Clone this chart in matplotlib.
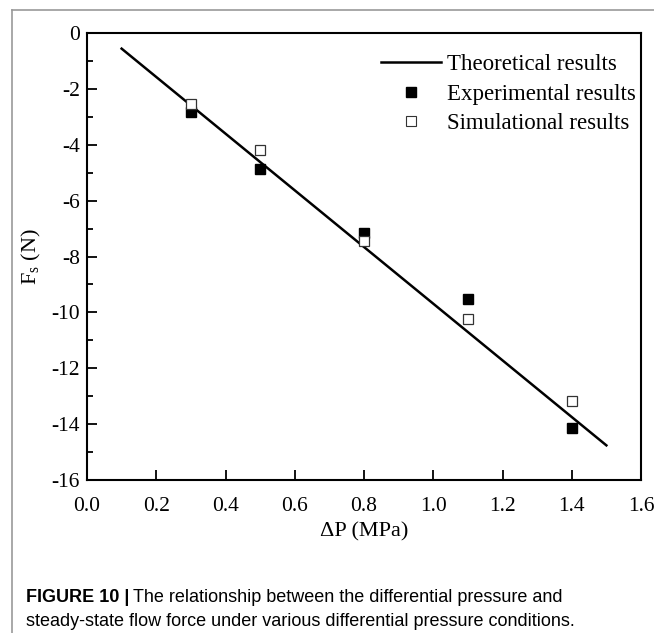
import numpy as np
import matplotlib.pyplot as plt
from matplotlib.lines import Line2D

# pressure difference (MPa) and flow force (N)
dp = [0.3, 0.5, 0.8, 1.1, 1.4]
fs_exp = [-2.82, -4.88, -7.15, -9.52, -14.14]
fs_sim = [-2.55, -4.20, -7.46, -10.24, -13.16]
dp_theory = [0.1, 1.5]
fs_theory = [-0.56, -14.76]

xticks = [0.0, 0.2, 0.4, 0.6, 0.8, 1.0, 1.2, 1.4, 1.6]
yticks = [0, -2, -4, -6, -8, -10, -12, -14, -16]

plt.rcParams['font.family'] = ['Liberation Serif', 'DejaVu Serif']

fig = plt.figure(figsize=(6.54, 6.33), dpi=100)
ax = fig.add_axes([87 / 654, 1 - 480 / 633, (641 - 87) / 654, (480 - 33) / 633])

ax.plot(dp_theory, fs_theory, color='black', lw=1.8, label='Theoretical results')
ax.plot(dp, fs_exp, 's', color='black', ms=7, ls='none', label='Experimental results')
ax.plot(dp, fs_sim, 's', mfc='white', mec='#333333', mew=0.9, ms=7, ls='none',
        label='Simulational results')

ax.set_xlim(0, 1.6)
ax.set_ylim(-16, 0)
ax.set_xticks(xticks)
ax.set_xticklabels([f'{v:.1f}' for v in xticks])
ax.set_yticks(yticks)
ax.set_yticklabels([str(v) for v in yticks])
ax.set_yticks(np.arange(-15, 0, 2), minor=True)
ax.tick_params(axis='both', which='major', direction='in', length=7, width=1.3,
               labelsize=15.5, top=False, right=False)
ax.tick_params(axis='y', which='minor', direction='in', length=4, width=1.3)
ax.tick_params(axis='x', pad=12)
ax.tick_params(axis='y', pad=5)
for s in ax.spines.values():
    s.set_linewidth(1.5)

ax.set_xlabel('ΔP (MPa)', fontsize=16, labelpad=5)
ax.set_ylabel(r'F$_\mathregular{s}$ (N)', fontsize=16, labelpad=6)

handles = [
    Line2D([], [], color='black', lw=1.8),
    Line2D([], [], marker='s', color='black', ls='none', ms=6.5),
    Line2D([], [], marker='s', mfc='white', mec='#333333', mew=0.8, ls='none', ms=6.5),
]
ax.legend(handles, ['Theoretical results', 'Experimental results', 'Simulational results'],
          loc='upper right', bbox_to_anchor=(1.011, 0.978), frameon=False, fontsize=16.5,
          handlelength=2.6, handletextpad=0.25, labelspacing=0.36, borderaxespad=0.1)

# outer frame lines of the figure panel
fig.add_artist(Line2D([12 / 654, 1], [1 - 10 / 633, 1 - 10 / 633], color='#999999', lw=1.2))
fig.add_artist(Line2D([12 / 654, 12 / 654], [0, 1 - 10 / 633], color='#999999', lw=1.2))

cap_size = 13.0
fig.text(26 / 654, 1 - 597 / 633, 'FIGURE 10 |', fontfamily='Liberation Sans',
         fontweight='bold', fontsize=cap_size, va='center')
fig.text(133 / 654, 1 - 597 / 633, 'The relationship between the differential pressure and',
         fontfamily='Liberation Sans', fontsize=cap_size, va='center')
fig.text(26 / 654, 1 - 621 / 633,
         'steady-state flow force under various differential pressure conditions.',
         fontfamily='Liberation Sans', fontsize=cap_size, va='center')

fig.savefig('out.png', dpi=100)
